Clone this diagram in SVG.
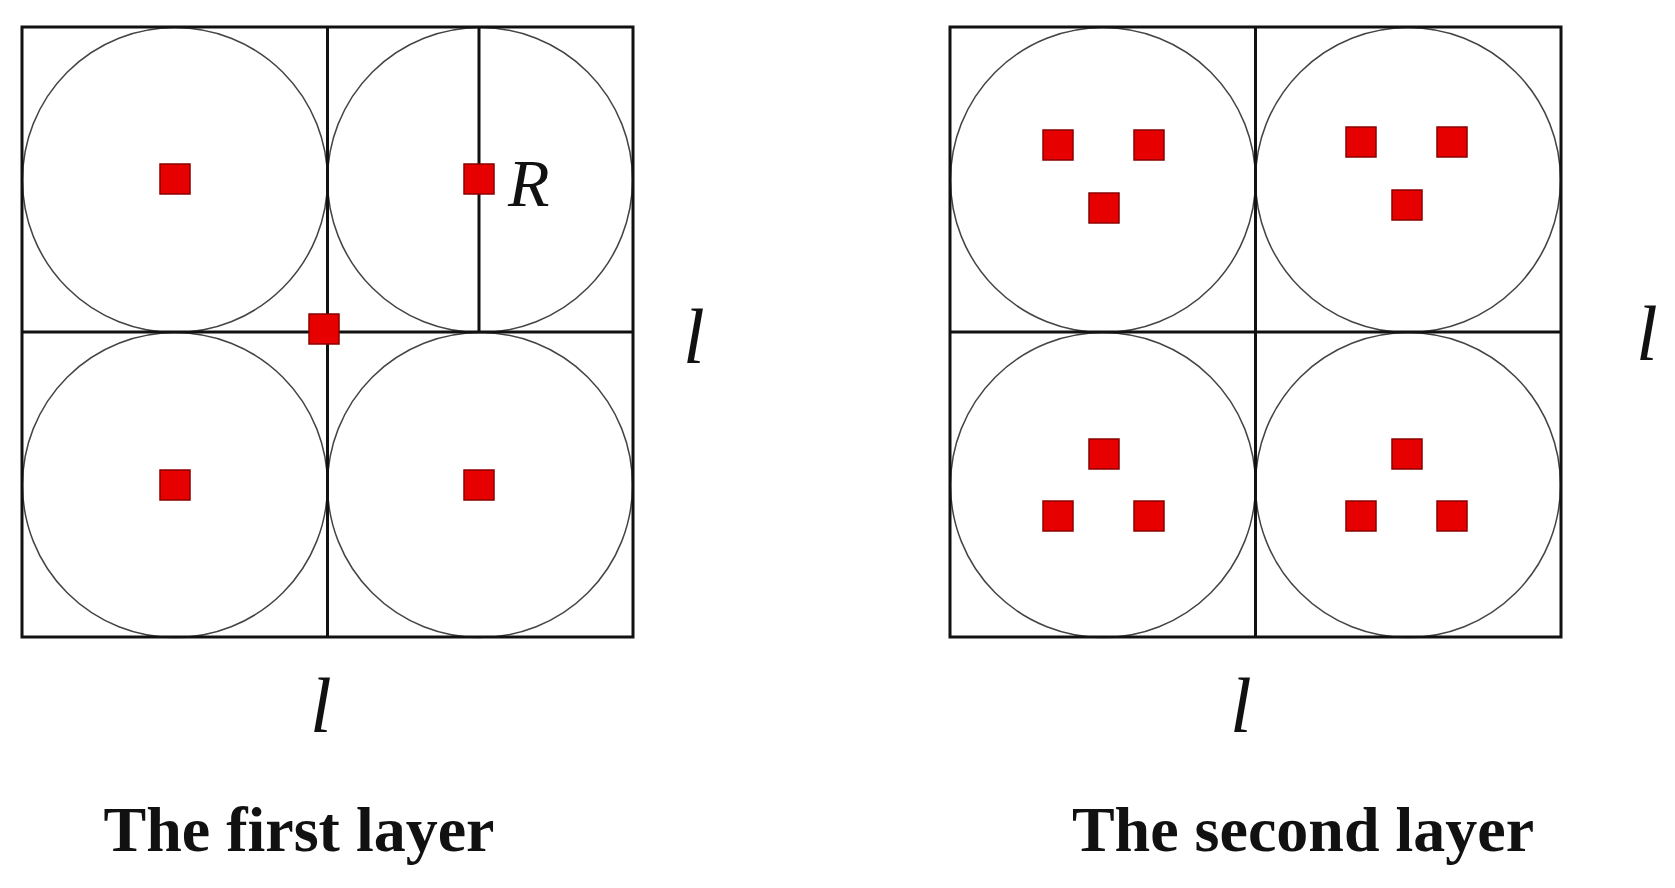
<svg xmlns="http://www.w3.org/2000/svg" width="1675" height="888" viewBox="0 0 1675 888">
<style>
.c{fill:none;stroke:#444;stroke-width:1.5}
.b{fill:none;stroke:#111;stroke-width:3}
.r{fill:#e60000;stroke:#8b0000;stroke-width:1.5}
.it{font-family:"Liberation Serif",serif;font-style:italic;fill:#111}
.t{font-family:"Liberation Serif",serif;font-weight:bold;font-size:64px;fill:#111;text-anchor:middle}
</style>
<defs><rect id="sq" x="-15" y="-15" width="30" height="30" class="r"/></defs>
<rect width="1675" height="888" fill="#fff"/>
<g id="layer1">
<circle class="c" cx="175" cy="180" r="152.5"/><circle class="c" cx="480" cy="180" r="152.5"/>
<circle class="c" cx="175" cy="485" r="152.5"/><circle class="c" cx="480" cy="485" r="152.5"/>
<rect class="b" x="22" y="27" width="611" height="610"/>
<line class="b" x1="327.5" y1="27" x2="327.5" y2="637"/>
<line class="b" x1="22" y1="332" x2="633" y2="332"/>
<line class="b" x1="479" y1="27" x2="479" y2="332"/>
<use href="#sq" x="175" y="179"/><use href="#sq" x="479" y="179"/><use href="#sq" x="324" y="329"/>
<use href="#sq" x="175" y="485"/><use href="#sq" x="479" y="485"/>
<text class="it" x="508" y="206" font-size="68">R</text>
<text class="it" x="310" y="732" font-size="78">l</text>
<text class="it" x="683" y="363" font-size="78">l</text>
<text class="t" x="299" y="851">The first layer</text>
</g>
<g id="layer2">
<circle class="c" cx="1103" cy="180" r="152.5"/><circle class="c" cx="1408" cy="180" r="152.5"/>
<circle class="c" cx="1103" cy="485" r="152.5"/><circle class="c" cx="1408" cy="485" r="152.5"/>
<rect class="b" x="950" y="27" width="611" height="610"/>
<line class="b" x1="1255.5" y1="27" x2="1255.5" y2="637"/>
<line class="b" x1="950" y1="332" x2="1561" y2="332"/>
<use href="#sq" x="1058" y="145"/><use href="#sq" x="1149" y="145"/><use href="#sq" x="1104" y="208"/>
<use href="#sq" x="1361" y="142"/><use href="#sq" x="1452" y="142"/><use href="#sq" x="1407" y="205"/>
<use href="#sq" x="1104" y="454"/><use href="#sq" x="1058" y="516"/><use href="#sq" x="1149" y="516"/>
<use href="#sq" x="1407" y="454"/><use href="#sq" x="1361" y="516"/><use href="#sq" x="1452" y="516"/>
<text class="it" x="1230" y="732" font-size="78">l</text>
<text class="it" x="1636" y="360" font-size="78">l</text>
<text class="t" x="1303" y="851">The second layer</text>
</g>
</svg>
